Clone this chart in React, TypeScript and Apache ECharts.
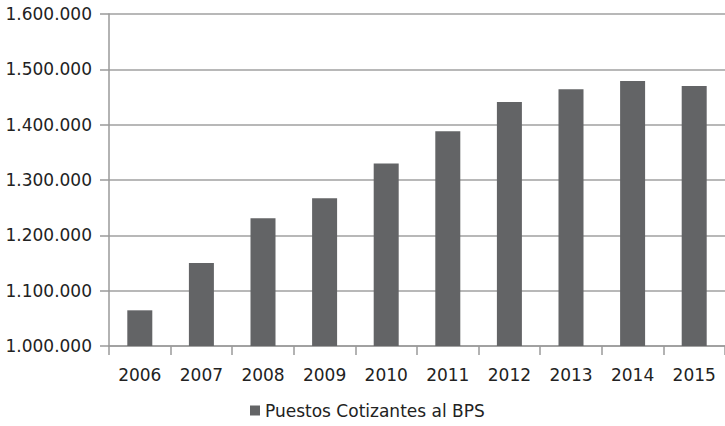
import React, { useEffect, useRef } from "react";
import * as echarts from "echarts";

const categories = ["2006", "2007", "2008", "2009", "2010", "2011", "2012", "2013", "2014", "2015"];
const seriesName = "Puestos Cotizantes al BPS";
const values = [1064500, 1150000, 1231000, 1267000, 1330000, 1388000, 1441000, 1464000, 1479000, 1470000];
const yMin = 1000000;
const yMax = 1600000;
const yInterval = 100000;

const fmt = (v: number) => String(Math.round(v)).replace(/\B(?=(\d{3})+(?!\d))/g, ".");

export default function App() {
  const ref = useRef<HTMLDivElement>(null);
  useEffect(() => {
    if (!ref.current) return;
    const chart = echarts.init(ref.current, undefined, { renderer: "svg" });
    const font = "DejaVu Sans";
    chart.setOption({
      animation: false,
      backgroundColor: "#ffffff",
      grid: { left: 109, right: 0, top: 14, bottom: 80, containLabel: false },
      legend: {
        data: [seriesName],
        left: 250,
        top: 402,
        padding: 0,
        icon: "rect",
        itemWidth: 10,
        itemHeight: 10,
        itemGap: 10,
        textStyle: { fontFamily: font, fontSize: 17, color: "#222" },
      },
      xAxis: {
        type: "category",
        data: categories,
        axisLine: { lineStyle: { color: "#9a9a9a", width: 1.5 } },
        axisTick: { show: true, length: 9, lineStyle: { color: "#9a9a9a", width: 1.5 } },
        axisLabel: { fontFamily: font, fontSize: 17, color: "#222", margin: 20 },
      },
      yAxis: {
        type: "value",
        min: yMin,
        max: yMax,
        interval: yInterval,
        axisLine: { show: true, lineStyle: { color: "#9a9a9a", width: 1.5 } },
        axisTick: { show: true, length: 9, lineStyle: { color: "#9a9a9a", width: 1.5 } },
        splitLine: { lineStyle: { color: "#a0a0a0", width: 1.5 } },
        axisLabel: { fontFamily: font, fontSize: 17, color: "#222", margin: 17, formatter: (v: number) => fmt(v) },
      },
      series: [
        {
          name: seriesName,
          type: "bar",
          data: values,
          barWidth: 25,
          itemStyle: { color: "#636466" },
        },
      ],
    });
    return () => chart.dispose();
  }, []);
  return <div ref={ref} style={{ position: "fixed", left: 0, top: 0, width: 725, height: 426 }} />;
}
